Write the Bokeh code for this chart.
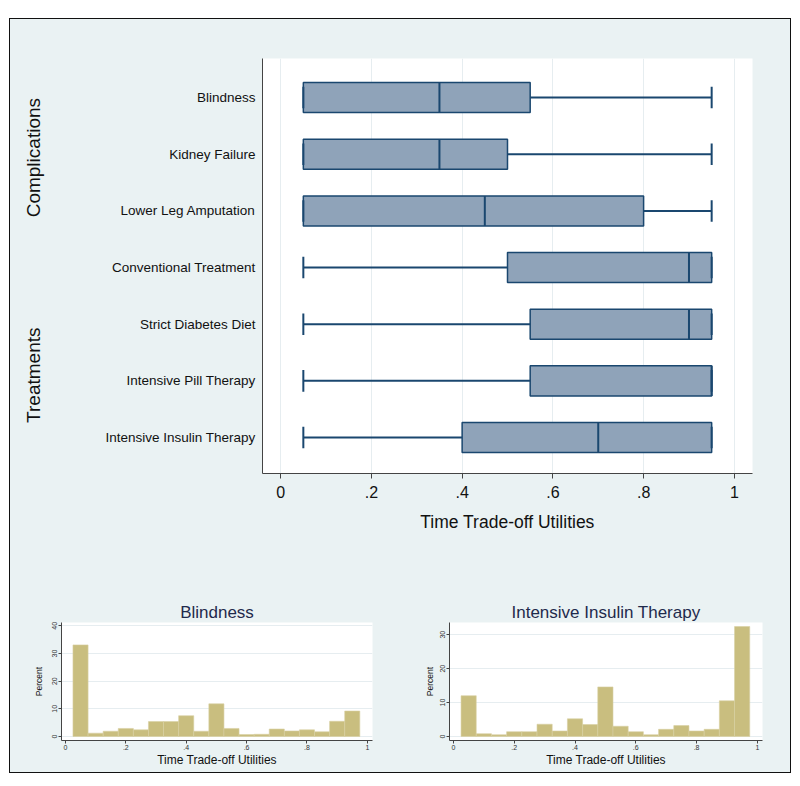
from bokeh.plotting import figure
from bokeh.layouts import column, row
from bokeh.models import FixedTicker, CustomJSTickFormatter, Label, Range1d
from bokeh.embed import file_html
from bokeh.resources import INLINE
import math

# ---------------- data ----------------
categories = ["Blindness", "Kidney Failure", "Lower Leg Amputation",
              "Conventional Treatment", "Strict Diabetes Diet",
              "Intensive Pill Therapy", "Intensive Insulin Therapy"]
groups = ["Complications", "Treatments"]
whisker_lo = [0.05, 0.05, 0.05, 0.05, 0.05, 0.05, 0.05]
q1 = [0.05, 0.05, 0.05, 0.50, 0.55, 0.55, 0.40]
median = [0.35, 0.35, 0.45, 0.90, 0.90, 0.95, 0.70]
q3 = [0.55, 0.50, 0.80, 0.95, 0.95, 0.95, 0.95]
whisker_hi = [0.95, 0.95, 0.95, 0.95, 0.95, 0.95, 0.95]
x_ticks = [0, 0.2, 0.4, 0.6, 0.8, 1]
axis_title = "Time Trade-off Utilities"

bin_centers = [0.05, 0.10, 0.15, 0.20, 0.25, 0.30, 0.35, 0.40, 0.45, 0.50,
               0.55, 0.60, 0.65, 0.70, 0.75, 0.80, 0.85, 0.90, 0.95]
bin_width = 0.05
blindness_pct = [33.1, 1.2, 1.9, 2.9, 2.4, 5.4, 5.4, 7.5, 1.9, 11.8,
                 2.9, 0.7, 0.8, 2.7, 2.0, 2.4, 1.7, 5.5, 9.2]
insulin_pct = [12.0, 0.8, 0.5, 1.4, 1.4, 3.6, 1.6, 5.2, 3.5, 14.6,
               3.0, 1.4, 0.5, 2.1, 3.2, 1.6, 2.1, 10.5, 32.4]
blind_yticks = [0, 10, 20, 30, 40]
insulin_yticks = [0, 10, 20, 30]

# ---------------- styles ----------------
FONT = "Liberation Sans"
BG = "#EAF2F3"
NAVY = "#1A476F"
BOXFILL = "#8FA3B9"
KHAKI = "#C9BE7F"
GRID = "#E6EDF0"

frac_fmt = CustomJSTickFormatter(code="""
    if (Math.abs(tick) < 1e-9) return '0';
    if (Math.abs(tick - 1) < 1e-9) return '1';
    return tick.toFixed(1).replace(/^0/, '');
""")

# ---------------- main box plot ----------------
n = len(categories)
ypos = [n - i for i in range(n)]
yr = Range1d(0.365, 7.69)

p = figure(frame_width=490, frame_height=415,
           min_border_left=192, min_border_right=38,
           min_border_top=39, min_border_bottom=117,
           x_range=Range1d(-0.04, 1.04), y_range=yr,
           output_backend="svg", toolbar_location=None)
p.border_fill_color = BG
p.background_fill_color = "white"
p.outline_line_color = None

box_h = 0.53
cap_h = 0.38
p.hbar(y=ypos, left=q1, right=q3, height=box_h, fill_color=BOXFILL,
       line_color=NAVY, line_width=1.5)
p.segment(x0=median, x1=median, y0=[y - box_h / 2 for y in ypos],
          y1=[y + box_h / 2 for y in ypos], line_color=NAVY, line_width=2)
p.segment(x0=whisker_lo, x1=q1, y0=ypos, y1=ypos, line_color=NAVY, line_width=2)
p.segment(x0=q3, x1=whisker_hi, y0=ypos, y1=ypos, line_color=NAVY, line_width=2)
p.segment(x0=whisker_lo, x1=whisker_lo, y0=[y - cap_h / 2 for y in ypos],
          y1=[y + cap_h / 2 for y in ypos], line_color=NAVY, line_width=2)
p.segment(x0=whisker_hi, x1=whisker_hi, y0=[y - cap_h / 2 for y in ypos],
          y1=[y + cap_h / 2 for y in ypos], line_color=NAVY, line_width=2)

p.xaxis.ticker = FixedTicker(ticks=x_ticks)
p.xaxis.formatter = frac_fmt
p.xaxis.axis_label = axis_title
p.xaxis.axis_label_text_font = FONT
p.xaxis.axis_label_text_font_size = "17.5px"
p.xaxis.axis_label_text_font_style = "normal"
p.xaxis.axis_label_text_color = "#111111"
p.xaxis.axis_label_standoff = 11
p.xaxis.major_label_text_font = FONT
p.xaxis.major_label_text_font_size = "16px"
p.xaxis.major_label_text_color = "#111111"
p.xaxis.major_label_standoff = 7
p.xaxis.major_tick_out = 5
p.xaxis.major_tick_in = 0
p.xaxis.minor_tick_line_color = None
p.xaxis.axis_line_color = "#444444"
p.xaxis.major_tick_line_color = "#444444"

p.yaxis.ticker = FixedTicker(ticks=ypos)
p.yaxis.major_label_overrides = {y: c for y, c in zip(ypos, categories)}
p.yaxis.major_label_text_font = FONT
p.yaxis.major_label_text_font_size = "13.5px"
p.yaxis.major_label_text_color = "#111111"
p.yaxis.major_tick_line_color = None
p.yaxis.major_tick_out = 0
p.yaxis.major_tick_in = 0
p.yaxis.minor_tick_line_color = None
p.yaxis.major_label_standoff = 7
p.yaxis.axis_line_color = "#444444"

p.xgrid.grid_line_color = GRID
p.ygrid.grid_line_color = None

# side strip holding the group titles
g = figure(frame_width=60, frame_height=415,
           min_border_left=0, min_border_right=0,
           min_border_top=39, min_border_bottom=117,
           x_range=Range1d(0, 60), y_range=yr,
           x_axis_location=None, y_axis_location=None,
           output_backend="svg", toolbar_location=None)
g.border_fill_color = BG
g.background_fill_color = BG
g.outline_line_color = None
g.xgrid.grid_line_color = None
g.ygrid.grid_line_color = None
group_y = [5.94, 2.10]
for gname, gy in zip(groups, group_y):
    g.add_layout(Label(x=23, y=gy, text=gname, angle=math.pi / 2,
                       text_align="center", text_baseline="middle",
                       text_font=FONT, text_font_size="19px",
                       text_color="#111111"))


# ---------------- histograms ----------------
def hist(title, pct, yticks, ymax, ymin, fw, bl, lab_standoff):
    h = figure(frame_width=fw, frame_height=118,
               min_border_left=bl, min_border_right=28,
               min_border_top=32, min_border_bottom=32,
               x_range=Range1d(-0.013, 1.017), y_range=Range1d(ymin, ymax),
               output_backend="svg", toolbar_location=None)
    h.border_fill_color = BG
    h.background_fill_color = "white"
    h.outline_line_color = None
    h.vbar(x=bin_centers, top=pct, bottom=0, width=bin_width,
           fill_color=KHAKI, line_color="#D8D0A2", line_width=0.6)
    h.title.text = title
    h.title.align = "center"
    h.title.text_font = FONT
    h.title.text_font_size = "17px"
    h.title.text_font_style = "normal"
    h.title.text_color = "#1F2A4C"
    h.title.standoff = 2

    h.xaxis.ticker = FixedTicker(ticks=x_ticks)
    h.xaxis.formatter = frac_fmt
    h.xaxis.axis_label = axis_title
    h.yaxis.ticker = FixedTicker(ticks=yticks)
    h.yaxis.axis_label = "Percent"
    h.yaxis.major_label_orientation = "vertical"
    for ax in (h.xaxis, h.yaxis):
        ax.major_label_text_font = FONT
        ax.major_label_text_font_size = "7px"
        ax.major_label_text_color = "#333333"
        ax.major_label_standoff = 1
        ax.axis_label_text_font = FONT
        ax.axis_label_text_font_style = "normal"
        ax.axis_label_text_color = "#111111"
        ax.major_tick_out = 3
        ax.major_tick_in = 0
        ax.minor_tick_line_color = None
        ax.axis_line_color = "#444444"
        ax.major_tick_line_color = "#444444"
    h.xaxis.axis_label_text_font_size = "12px"
    h.xaxis.axis_label_standoff = 0
    h.yaxis.axis_label_text_font_size = "8.5px"
    h.yaxis.axis_label_standoff = lab_standoff
    h.xgrid.grid_line_color = None
    h.ygrid.grid_line_color = GRID
    return h


h1 = hist("Blindness", blindness_pct, blind_yticks, 41.2, -1.45, 311, 51, 6)
h2 = hist("Intensive Insulin Therapy", insulin_pct, insulin_yticks, 33.6, -1.2, 313, 49, 3)

layout = column(row(g, p, spacing=0), row(h1, h2, spacing=0), spacing=0,
                styles={"border": "1px solid #111111", "background-color": BG,
                        "margin-top": "18px", "margin-left": "9px"})

open("out.html", "w").write(file_html(layout, INLINE))
